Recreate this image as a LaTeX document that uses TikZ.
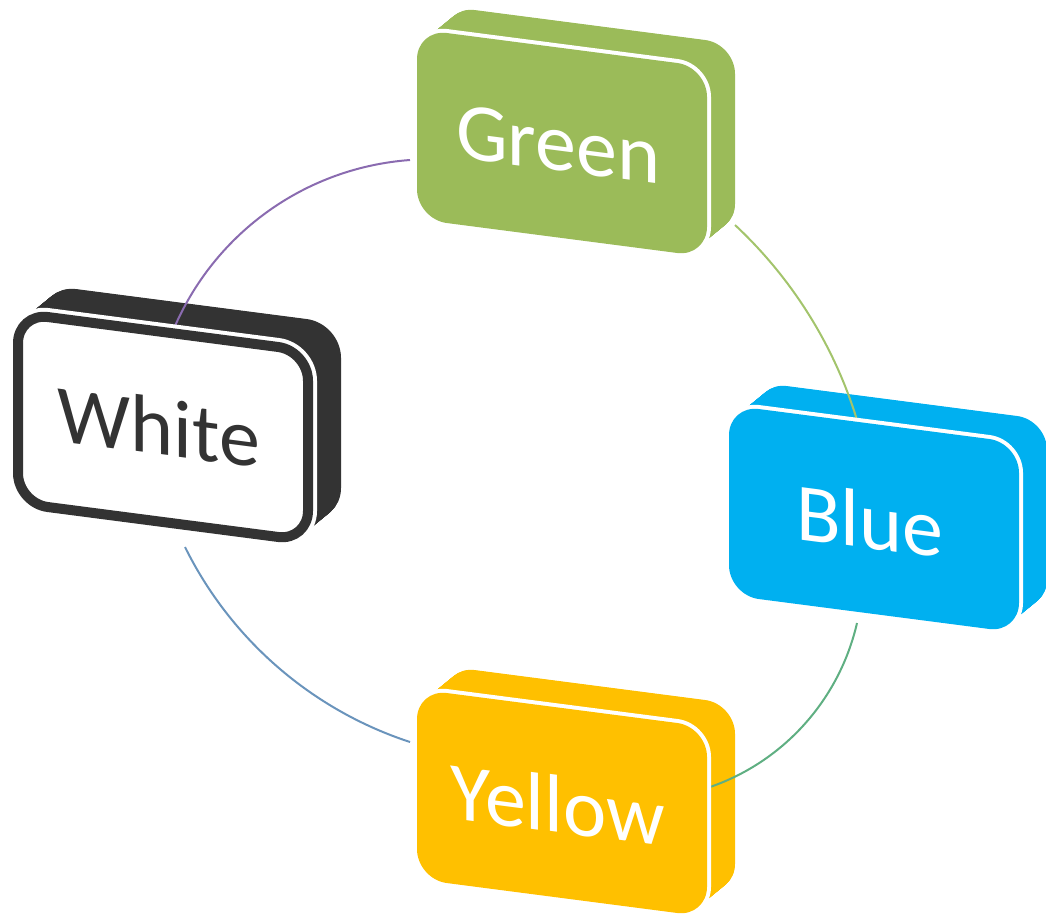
\documentclass[tikz,border=0pt]{standalone}
\usepackage{fontspec}
\setmainfont{Carlito}
\definecolor{cgreen}{HTML}{9BBB59}
\definecolor{cblue}{HTML}{00B0F0}
\definecolor{cyellow}{HTML}{FFC000}
\definecolor{cdark}{HTML}{333333}
\definecolor{arcA}{HTML}{8A6BB0}
\definecolor{arcB}{HTML}{A3C46C}
\definecolor{arcC}{HTML}{5FAF82}
\definecolor{arcD}{HTML}{6A94BC}
\newcommand\boxshape{(0,-95) -- (145,-95) -- (145,95) -- (-145,95) -- (-145,-95) -- cycle}
\begin{document}
\begin{tikzpicture}[x=1pt,y=-1pt,
  facetxt/.style={font=\fontsize{82}{98}\selectfont, transform shape, inner sep=0pt},
  arcline/.style={line width=2pt},
  rc/.style={rounded corners=30pt}]
\useasboundingbox (0,0) rectangle (1046,919);
% ---------- extrusions ----------
\foreach \cx/\cy/\col in {562/143/cgreen, 874/519/cblue, 562/803/cyellow} {
  \begin{scope}[shift={(\cx,\cy)}, cm={1,-0.13,0,1,(0,0)}]
    \foreach \t in {0,0.5,...,28} {
      \fill[\col, rc, shift={(\t,-0.95*\t)}] \boxshape;
    }
  \end{scope}
}
\begin{scope}[shift={(163,427)}, cm={1,-0.13,0,1,(0,0)}]
  \foreach \t in {0,0.5,...,28} {
    \filldraw[fill=cdark, draw=cdark, line width=10pt, rc, shift={(\t,-0.95*\t)}] \boxshape;
  }
\end{scope}
% ---------- arcs ----------
\coordinate (a1s) at (410,160); \coordinate (a1e) at (175,326);
\coordinate (a2s) at (735,225); \coordinate (a2e) at (857,420);
\coordinate (a3s) at (857,623); \coordinate (a3e) at (704,789);
\coordinate (a4s) at (410,742); \coordinate (a4e) at (185,547);
\draw[arcline, arcA] (a1s) .. controls +(-103.3,7.6) and +(41.8,-94.8) .. (a1e);
\draw[arcline, arcB] (a2s) .. controls +(57,53.3) and +(-22.9,-74.6) .. (a2e);
\draw[arcline, arcC] (a3s) .. controls +(-18.1,78.5) and +(76.9,-24.2) .. (a3e);
\draw[arcline, arcD] (a4s) .. controls +(-98.1,-32.1) and +(45.7,92.5) .. (a4e);
% ---------- front faces ----------
\foreach \cx/\cy/\col/\txt/\nm in {562/143/cgreen/Green/green, 874/519/cblue/Blue/blue, 562/803/cyellow/Yellow/yellow} {
  \begin{scope}[shift={(\cx,\cy)}, cm={1,-0.13,0,1,(0,0)}]
    \draw[white, line width=8pt, rc] \boxshape;
    \fill[\col, rc] \boxshape;
    \node[facetxt, text=white] (\nm) at (-4,2) {\txt};
  \end{scope}
}
\begin{scope}[shift={(163,427)}, cm={1,-0.13,0,1,(0,0)}]
  \draw[white, line width=18pt, rc] \boxshape;
  \filldraw[fill=white, draw=cdark, line width=10pt, rc] \boxshape;
  \node[facetxt, text=cdark] (white) at (-4,0) {White};
\end{scope}
\end{tikzpicture}
\end{document}
